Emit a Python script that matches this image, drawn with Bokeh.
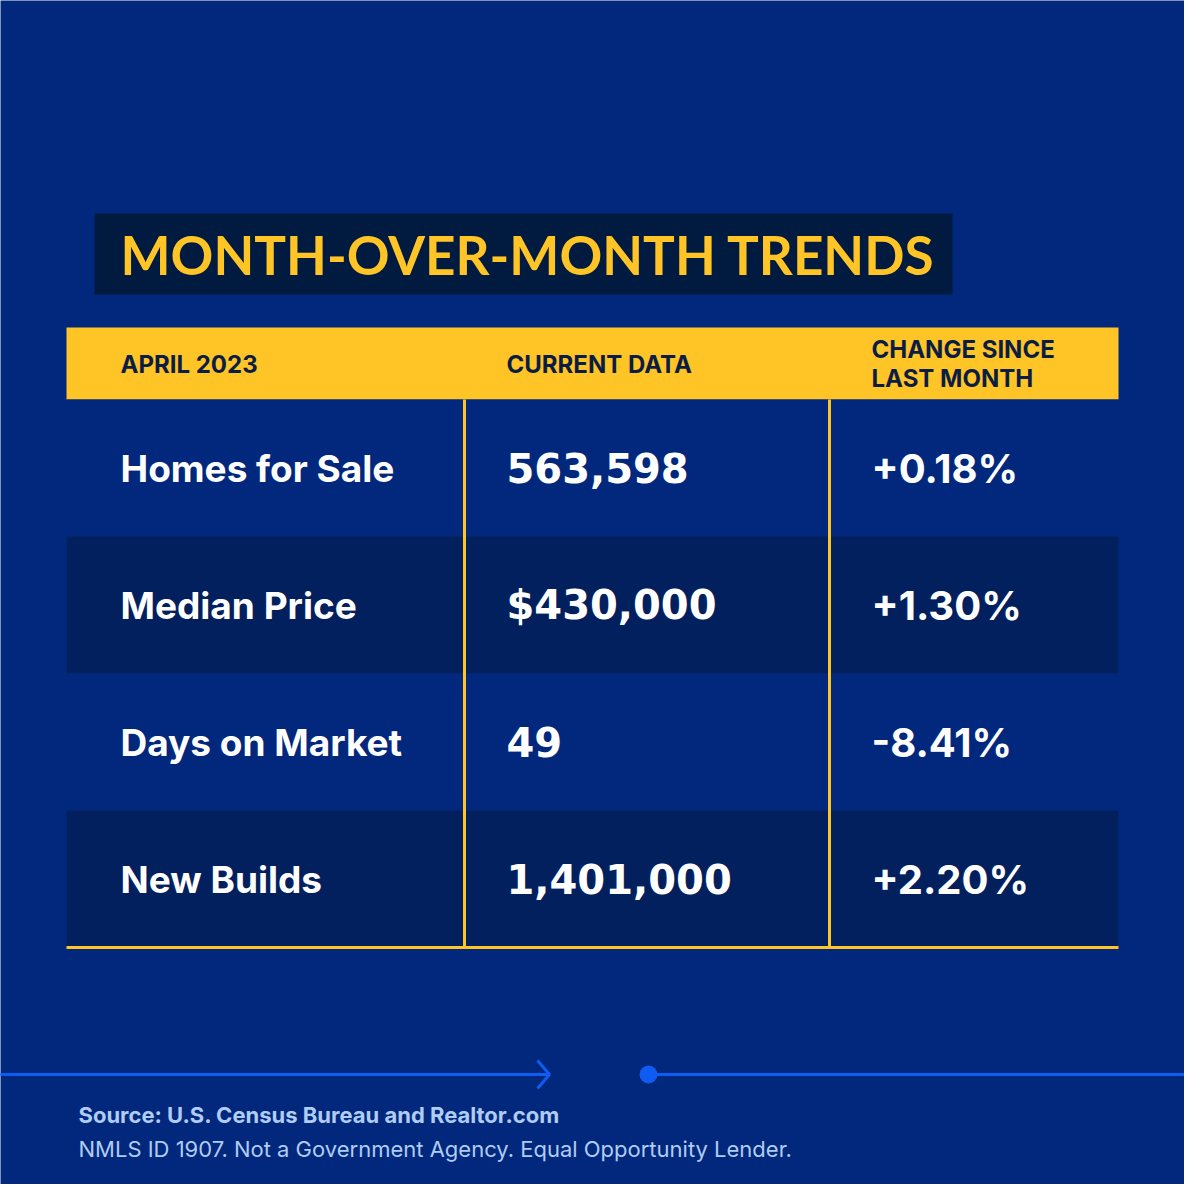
from bokeh.plotting import figure
from bokeh.models import Range1d, ColumnDataSource
from bokeh.core.properties import value
from bokeh.embed import file_html
from bokeh.resources import INLINE

# ---- data ----
title = "MONTH-OVER-MONTH TRENDS"
headers = ["APRIL 2023", "CURRENT DATA", "CHANGE SINCE\nLAST MONTH"]
metrics = ["Homes for Sale", "Median Price", "Days on Market", "New Builds"]
current_values = ["563,598", "$430,000", "49", "1,401,000"]
changes = ["+0.18%", "+1.30%", "-8.41%", "+2.20%"]
source_note = "Source: U.S. Census Bureau and Realtor.com"
legal_note = "NMLS ID 1907. Not a Government Agency. Equal Opportunity Lender."

# ---- style ----
BG = "#01287d"
DARK_ROW = "#03205e"
TITLE_BOX = "#011a40"
YELLOW = "#ffc425"
NAVY_TXT = "#0b1d44"
WHITE = "#ffffff"
LIGHT = "#b0ccf2"
BRIGHT = "#0f5cf2"
TITLE_FONT = "Lato"
FONT = "Inter"
NUM_FONT = "DejaVu Sans"

W = H = 1184
p = figure(width=W, height=H, x_range=Range1d(8, 1192), y_range=Range1d(1192, 8),
           output_backend="svg", toolbar_location=None, min_border=0)
p.background_fill_color = BG
p.border_fill_color = BG
p.outline_line_color = None
p.axis.visible = False
p.grid.visible = False

# table geometry
left, right = 74, 1126
head_top, head_bot = 335, 407
row_h = 137
col_x = [128, 514, 879]
div_x = [472, 837]

# title box
p.quad(left=102, right=960, top=221, bottom=302, fill_color=TITLE_BOX, line_color=None)
p.text(x=[128], y=[262], text=[title], text_color=YELLOW, text_font=value(TITLE_FONT),
       text_font_style="bold", text_font_size="53px", text_baseline="middle")

# header band
p.quad(left=left, right=right, top=head_top, bottom=head_bot, fill_color=YELLOW, line_color=None)
hsrc = ColumnDataSource(dict(x=col_x, y=[372, 372, 371], t=headers))
p.text(x="x", y="y", text="t", source=hsrc, text_color=NAVY_TXT, text_font=value(FONT),
       text_font_style="bold", text_font_size="24px", text_baseline="middle",
       text_line_height=1.0)

# rows
n = len(metrics)
tops = [head_bot + i * row_h for i in range(n)]
bots = [t + row_h for t in tops]
fills = [BG if i % 2 == 0 else DARK_ROW for i in range(n)]
p.quad(left=left, right=right, top=tops, bottom=bots, fill_color=fills, line_color=None)
cy = [t + row_h / 2 for t in tops]

p.text(x=[col_x[0]] * n, y=cy, text=metrics, text_color=WHITE, text_font=value(FONT),
       text_font_style="bold", text_font_size="37px", text_baseline="middle")
p.text(x=[col_x[1]] * n, y=cy, text=current_values, text_color=WHITE, text_font=value(NUM_FONT),
       text_font_style="bold", text_font_size="40px", text_baseline="middle")
p.text(x=[col_x[2]] * n, y=cy, text=changes, text_color=WHITE, text_font=value(FONT),
       text_font_style="bold", text_font_size="40px", text_baseline="middle")

# dividers
table_bot = bots[-1]
p.segment(x0=div_x, x1=div_x, y0=[head_bot] * 2, y1=[table_bot] * 2, line_color=YELLOW, line_width=3)
p.segment(x0=[left], x1=[right], y0=[table_bot], y1=[table_bot], line_color=YELLOW, line_width=3)

# footer decoration
p.segment(x0=[0, 656], x1=[557, 1200], y0=[1082, 1082], y1=[1082, 1082], line_color=BRIGHT, line_width=3)
p.line(x=[545, 557, 545], y=[1068, 1082, 1096], line_color=BRIGHT, line_width=3)
p.scatter(x=[656], y=[1082], size=18, fill_color=BRIGHT, line_color=None)

p.text(x=[86], y=[1122], text=[source_note], text_color=LIGHT, text_font=value(FONT),
       text_font_style="bold", text_font_size="22px", text_baseline="middle")
p.text(x=[86], y=[1156], text=[legal_note], text_color=LIGHT, text_font=value(FONT),
       text_font_size="22px", text_baseline="middle")

open("out.html", "w").write(file_html(p, INLINE))
